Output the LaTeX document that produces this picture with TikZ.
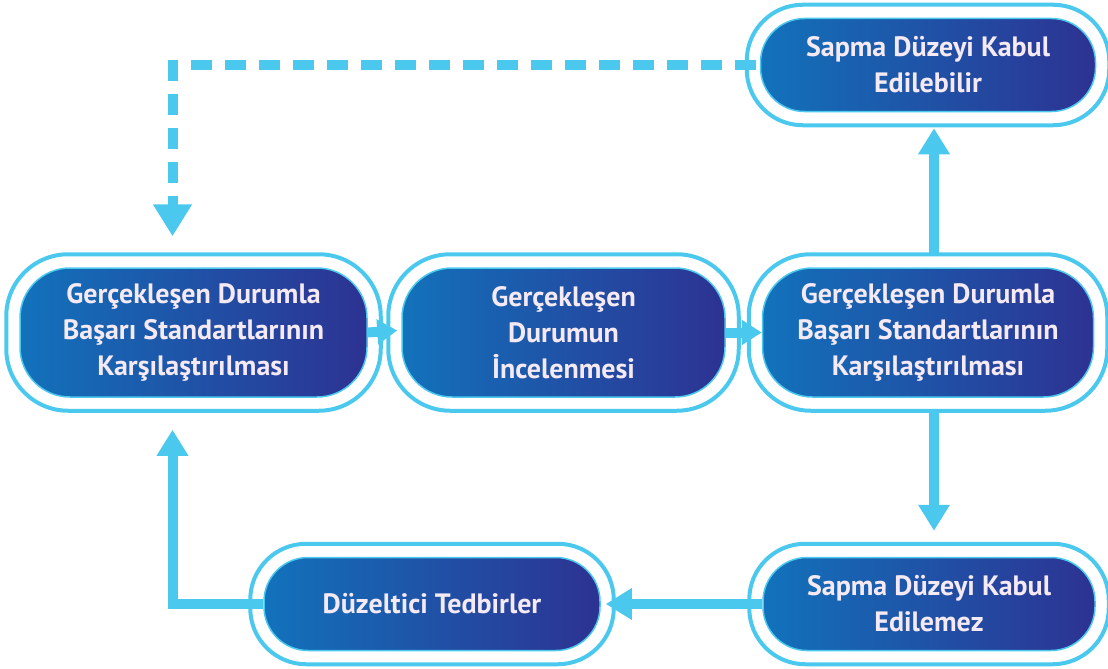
\documentclass[tikz,border=0pt]{standalone}
\usepackage{fontspec}
\setmainfont{PT Sans}
\usetikzlibrary{arrows.meta,calc}
\definecolor{ring}{HTML}{4BC8EE}
\definecolor{gl}{HTML}{1272BB}
\definecolor{gm}{HTML}{2458A6}
\definecolor{gr}{HTML}{2D3292}
\definecolor{txt}{HTML}{F5EAF3}
\tikzset{
  box/.style={rounded corners=#1, left color=gl, middle color=gm, right color=gr,
    draw=ring, line width=1.5pt, text=txt, align=center, inner sep=0pt,
    font=\bfseries\fontsize{28pt}{36pt}\selectfont},
  bigbox/.style={box=50pt, minimum height=129pt},
  smallbox/.style={box=44pt, minimum height=93pt},
  ringline/.style={draw=ring, line width=4pt},
  arr/.style={draw=ring, line width=10pt},
  bighead/.style={-{Triangle[length=26pt,width=30pt]}},
  smallhead/.style={-{Triangle[length=20pt,width=24pt]}},
}
\begin{document}
\begin{tikzpicture}[x=1pt,y=-1pt]
\useasboundingbox (0,0) rectangle (1108,669);
% nodes
\node[bigbox, minimum width=347pt] (n1) at (193.5,332.5) {Gerçekleşen Durumla\\Başarı Standartlarının\\Karşılaştırılması};
\node[bigbox, minimum width=323pt] (n2) at (563.5,332.5) {Gerçekleşen\\Durumun\\İncelenmesi};
\node[bigbox, minimum width=331pt] (n3) at (928,332.5) {Gerçekleşen Durumla\\Başarı Standartlarının\\Karşılaştırılması};
\node[smallbox, minimum width=335pt] (ta) at (928,65) {Sapma Düzeyi Kabul\\Edilebilir};
\node[smallbox, minimum width=332pt] (br) at (929,604) {Sapma Düzeyi Kabul\\Edilemez};
\node[smallbox, minimum width=336pt] (dz) at (432,604) {Düzeltici Tedbirler};
% outer rings
\foreach \n/\r in {n1/62pt,n2/62pt,n3/62pt,ta/56pt,br/56pt,dz/56pt}{
  \draw[ringline, rounded corners=\r] ($(\n.north west)+(-13,-13)$) rectangle ($(\n.south east)+(13,13)$);
}
% connectors
\draw[arr, smallhead] (n1.east) -- ($(n2.west)+(-4,-2)$);
\draw[arr, smallhead] (n2.east) -- ($(n3.west)+(0,0)$);
\draw[arr, bighead] ($(n3.north)+(6,-11)$) -- ($(ta.south)+(6,16)$);
\draw[arr, bighead] ($(n3.south)+(6,13)$) -- ($(br.north)+(5,-26)$);
\draw[arr, bighead] (br.west) -- ($(dz.east)+(5,0)$);
\draw[arr, bighead] (dz.west) -| ($(n1.south)+(-21,32)$);
\draw[arr, dash pattern=on 21pt off 13pt, -{Triangle[length=32pt,width=37pt]}] ($(ta.west)+(-4,0)$) -| ($(n1.north)+(-21,-31)$);
\end{tikzpicture}
\end{document}
